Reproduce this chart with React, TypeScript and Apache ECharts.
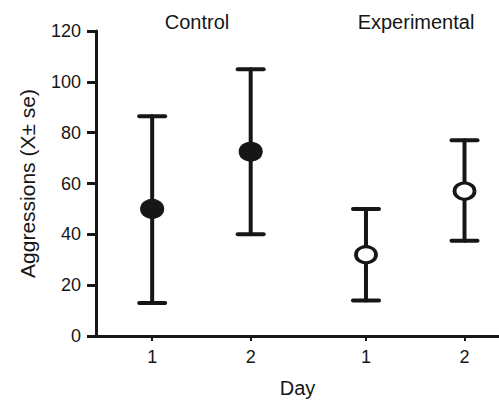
import React, { useEffect, useRef } from "react";
import * as echarts from "echarts";

const groups = ["Control", "Control", "Experimental", "Experimental"];
const dayLabels = ["1", "2", "1", "2"];
const xPositions = [1, 2, 3.17, 4.17];
const means = [50, 72.5, 32, 57];
const upper = [86.5, 105, 50, 77];
const lower = [13, 40, 14, 37.5];
const yTicks = [0, 20, 40, 60, 80, 100, 120];

const INK = "#161616";
const FONT = "Liberation Sans, Arial, Helvetica, sans-serif";

export default function App() {
  const ref = useRef<HTMLDivElement>(null);
  useEffect(() => {
    if (!ref.current) return;
    const chart = echarts.init(ref.current, undefined, { renderer: "svg" });
    const errData = xPositions.map((x, i) => [x, lower[i], upper[i]]);
    const filled = xPositions
      .map((x, i) => ({ x, i }))
      .filter((d) => groups[d.i] === "Control")
      .map((d) => [d.x, means[d.i]]);
    const open = xPositions
      .map((x, i) => ({ x, i }))
      .filter((d) => groups[d.i] === "Experimental")
      .map((d) => [d.x, means[d.i]]);

    chart.setOption({
      animation: false,
      textStyle: { fontFamily: FONT },
      grid: { left: 96, right: 0, top: 31, bottom: 66, outerBoundsMode: "none", containLabel: false },
      graphic: [
        {
          type: "text",
          x: 197,
          y: 22,
          style: {
            text: "Control",
            fontSize: 20,
            fontFamily: FONT,
            fill: INK,
            align: "center",
            verticalAlign: "middle",
          },
        },
        {
          type: "text",
          x: 416,
          y: 22,
          style: {
            text: "Experimental",
            fontSize: 20,
            fontFamily: FONT,
            fill: INK,
            align: "center",
            verticalAlign: "middle",
          },
        },
      ],
      xAxis: {
        type: "value",
        min: 0.43,
        max: 4.52,
        name: "Day",
        nameLocation: "middle",
        nameGap: 42,
        nameTextStyle: { fontSize: 20, color: INK, fontFamily: FONT },
        axisLine: { show: true, lineStyle: { color: INK, width: 3 } },
        axisTick: {
          show: true,
          customValues: xPositions,
          length: 5,
          lineStyle: { color: INK, width: 2 },
        },
        axisLabel: {
          customValues: xPositions,
          formatter: (v: number) => {
            const idx = xPositions.findIndex((p) => Math.abs(p - v) < 1e-6);
            return idx >= 0 ? dayLabels[idx] : "";
          },
          fontSize: 18,
          color: INK,
          margin: 12,
          fontFamily: FONT,
        },
        splitLine: { show: false },
      },
      yAxis: {
        type: "value",
        min: yTicks[0],
        max: yTicks[yTicks.length - 1],
        interval: 20,
        name: "Aggressions (X± se)",
        nameLocation: "middle",
        nameGap: 58,
        nameRotate: 90,
        nameTextStyle: { fontSize: 21, color: INK, fontFamily: FONT },
        axisLine: { show: true, lineStyle: { color: INK, width: 3 } },
        axisTick: { show: true, length: 9, lineStyle: { color: INK, width: 3 } },
        axisLabel: { fontSize: 18, color: INK, margin: 15, fontFamily: FONT },
        splitLine: { show: false },
      },
      series: [
        {
          type: "custom",
          data: errData,
          z: 2,
          renderItem: (params: any, api: any) => {
            const x = api.value(0);
            const lo = api.coord([x, api.value(1)]);
            const hi = api.coord([x, api.value(2)]);
            const hw = 13;
            const style = { stroke: INK, lineWidth: 4, lineCap: "round" };
            return {
              type: "group",
              children: [
                { type: "line", shape: { x1: lo[0], y1: lo[1], x2: hi[0], y2: hi[1] }, style },
                { type: "line", shape: { x1: hi[0] - hw, y1: hi[1], x2: hi[0] + hw, y2: hi[1] }, style },
                { type: "line", shape: { x1: lo[0] - hw, y1: lo[1], x2: lo[0] + hw, y2: lo[1] }, style },
              ],
            };
          },
        },
        {
          type: "scatter",
          data: filled,
          z: 5,
          symbol: "circle",
          symbolSize: [23, 19],
          itemStyle: { color: INK, borderColor: INK, borderWidth: 1, opacity: 1 },
        },
        {
          type: "scatter",
          data: open,
          z: 5,
          symbol: "circle",
          symbolSize: [20, 16],
          itemStyle: { color: "#ffffff", borderColor: INK, borderWidth: 3.5, opacity: 1 },
        },
      ],
    });
    return () => chart.dispose();
  }, []);
  return <div ref={ref} style={{ width: 499, height: 402, position: "absolute", left: 0, top: 0 }} />;
}
